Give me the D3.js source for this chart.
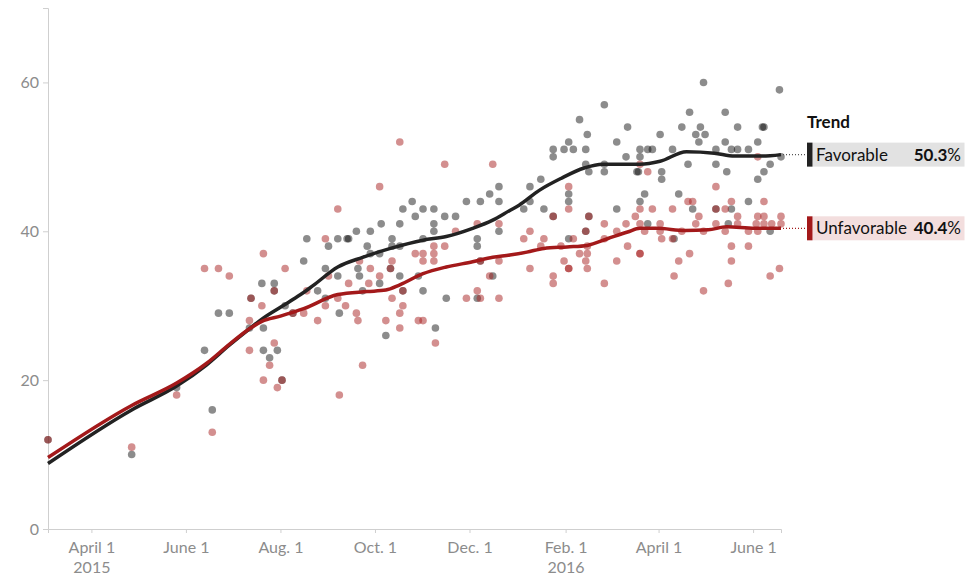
<!DOCTYPE html>
<html>
<head>
<meta charset="utf-8">
<script src="https://cdn.jsdelivr.net/npm/d3@7"></script>
<style>
  body { margin: 0; background: #fff; font-family: Lato, "Open Sans", sans-serif; }
  .axis text { fill: #8c8c8c; font-size: 16px; font-family: Lato, "Open Sans", sans-serif; }
  .axis path, .axis line { stroke: #cfcfcf; }
</style>
</head>
<body>
<div id="container"></div>
<script>
// poll results: [date, percent]
let favorablePolls = [
  ["2015-03-04",12],["2015-04-27",10],["2015-05-26",19],["2015-06-13",24],["2015-06-18",16],
  ["2015-06-22",29],["2015-06-29",29],["2015-07-12",27],["2015-07-13",31],["2015-07-20",33],
  ["2015-07-21",27],["2015-07-21",24],["2015-07-25",23],["2015-07-28",33],["2015-07-28",32],
  ["2015-07-30",24],["2015-08-02",20],["2015-08-04",30],["2015-08-09",29],["2015-08-16",36],
  ["2015-08-18",39],["2015-08-25",32],["2015-08-30",35],["2015-08-30",31],["2015-09-01",38],
  ["2015-09-07",39],["2015-09-07",34],["2015-09-08",29],["2015-09-13",39],["2015-09-14",39],
  ["2015-09-19",40],["2015-09-20",35],["2015-09-21",34],["2015-09-23",32],["2015-09-26",38],
  ["2015-09-28",37],["2015-09-28",40],["2015-10-04",37],["2015-10-04",33],["2015-10-05",41],
  ["2015-10-08",26],["2015-10-11",35],["2015-10-12",39],["2015-10-12",38],["2015-10-17",41],
  ["2015-10-17",38],["2015-10-17",34],["2015-10-19",43],["2015-10-19",32],["2015-10-25",44],
  ["2015-10-27",42],["2015-10-29",34],["2015-11-01",43],["2015-11-01",39],["2015-11-01",32],
  ["2015-11-08",43],["2015-11-08",41],["2015-11-08",40],["2015-11-09",27],["2015-11-15",42],
  ["2015-11-16",31],["2015-11-22",42],["2015-11-29",44],["2015-12-06",39],["2015-12-06",38],
  ["2015-12-06",31],["2015-12-08",44],["2015-12-08",36],["2015-12-14",45],["2015-12-16",34],
  ["2015-12-20",46],["2015-12-20",44],["2015-12-20",40],["2016-01-05",43],["2016-01-09",46],
  ["2016-01-09",44],["2016-01-16",47],["2016-01-18",43],["2016-01-24",51],["2016-01-24",50],
  ["2016-01-24",42],["2016-01-31",51],["2016-02-03",52],["2016-02-03",45],["2016-02-03",44],
  ["2016-02-03",39],["2016-02-06",51],["2016-02-10",55],["2016-02-14",51],["2016-02-14",49],
  ["2016-02-14",40],["2016-02-15",53],["2016-02-16",48],["2016-02-16",42],["2016-02-26",57],
  ["2016-02-26",49],["2016-02-26",48],["2016-03-05",52],["2016-03-05",43],["2016-03-11",50],
  ["2016-03-12",54],["2016-03-18",48],["2016-03-19",48],["2016-03-20",51],["2016-03-20",50],
  ["2016-03-20",44],["2016-03-23",45],["2016-03-25",51],["2016-03-25",41],["2016-03-28",51],
  ["2016-04-02",53],["2016-04-03",47],["2016-04-03",48],["2016-04-10",51],["2016-04-11",39],
  ["2016-04-14",45],["2016-04-16",54],["2016-04-20",49],["2016-04-21",56],["2016-04-23",43],
  ["2016-04-25",53],["2016-04-27",52],["2016-04-28",54],["2016-04-30",60],["2016-05-01",53],
  ["2016-05-08",51],["2016-05-08",49],["2016-05-08",43],["2016-05-14",56],["2016-05-14",52],
  ["2016-05-15",48],["2016-05-16",41],["2016-05-18",51],["2016-05-18",43],["2016-05-22",54],
  ["2016-05-22",51],["2016-05-29",51],["2016-05-29",44],["2016-06-04",52],["2016-06-04",47],
  ["2016-06-07",54],["2016-06-08",54],["2016-06-08",48],["2016-06-12",49],["2016-06-12",40],
  ["2016-06-18",59],["2016-06-19",50]
];

let unfavorablePolls = [
  ["2015-03-04",12],["2015-04-27",11],["2015-05-26",18],["2015-06-13",35],["2015-06-18",13],
  ["2015-06-22",35],["2015-06-29",34],["2015-07-12",28],["2015-07-12",24],["2015-07-13",31],
  ["2015-07-20",30],["2015-07-21",37],["2015-07-21",20],["2015-07-25",22],["2015-07-28",32],
  ["2015-07-28",25],["2015-07-30",19],["2015-08-02",20],["2015-08-04",35],["2015-08-09",29],
  ["2015-08-16",29],["2015-08-18",32],["2015-08-25",28],["2015-08-30",39],["2015-08-30",30],
  ["2015-09-01",34],["2015-09-07",43],["2015-09-07",31],["2015-09-08",18],["2015-09-12",30],
  ["2015-09-14",33],["2015-09-19",29],["2015-09-20",28],["2015-09-21",36],["2015-09-23",22],
  ["2015-09-27",33],["2015-09-28",35],["2015-10-04",46],["2015-10-04",34],["2015-10-08",28],
  ["2015-10-11",35],["2015-10-12",36],["2015-10-12",31],["2015-10-17",52],["2015-10-17",29],
  ["2015-10-17",27],["2015-10-19",32],["2015-10-19",30],["2015-10-27",37],["2015-10-29",28],
  ["2015-11-01",37],["2015-11-01",36],["2015-11-01",28],["2015-11-08",38],["2015-11-08",37],
  ["2015-11-08",36],["2015-11-09",25],["2015-11-15",49],["2015-11-15",38],["2015-11-22",40],
  ["2015-11-29",31],["2015-12-06",41],["2015-12-06",32],["2015-12-08",31],["2015-12-08",36],
  ["2015-12-14",34],["2015-12-16",49],["2015-12-20",41],["2015-12-20",36],["2015-12-20",31],
  ["2016-01-05",39],["2016-01-09",40],["2016-01-09",35],["2016-01-16",38],["2016-01-18",39],
  ["2016-01-24",42],["2016-01-24",34],["2016-01-24",33],["2016-01-29",38],["2016-01-31",36],
  ["2016-02-03",46],["2016-02-03",43],["2016-02-03",35],["2016-02-03",35],["2016-02-06",39],
  ["2016-02-10",37],["2016-02-14",40],["2016-02-14",36],["2016-02-15",38],["2016-02-15",37],
  ["2016-02-15",35],["2016-02-16",42],["2016-02-26",41],["2016-02-26",39],["2016-02-26",33],
  ["2016-03-05",40],["2016-03-05",36],["2016-03-11",41],["2016-03-12",38],["2016-03-17",42],
  ["2016-03-20",49],["2016-03-25",48],["2016-03-20",43],["2016-03-20",41],["2016-03-20",37],
  ["2016-03-20",37],["2016-03-23",40],["2016-03-28",43],["2016-04-02",41],["2016-04-02",40],
  ["2016-04-03",39],["2016-04-10",43],["2016-04-10",39],["2016-04-11",34],["2016-04-14",36],
  ["2016-04-16",40],["2016-04-20",44],["2016-04-21",37],["2016-04-23",44],["2016-04-25",41],
  ["2016-04-27",42],["2016-04-30",40],["2016-04-30",32],["2016-05-08",46],["2016-05-08",43],
  ["2016-05-08",41],["2016-05-14",43],["2016-05-14",40],["2016-05-16",33],["2016-05-18",44],
  ["2016-05-18",38],["2016-05-18",36],["2016-05-22",42],["2016-05-22",41],["2016-05-29",40],
  ["2016-05-29",38],["2016-06-03",41],["2016-06-04",50],["2016-06-04",42],["2016-06-04",40],
  ["2016-06-08",44],["2016-06-08",42],["2016-06-08",41],["2016-06-12",34],["2016-06-13",41],
  ["2016-06-18",35],["2016-06-19",42],["2016-06-19",41]
];

// smoothed trend lines
let favorableTrend = [
  ["2015-03-04",8.8],["2015-04-27",16.0],["2015-05-26",19.2],["2015-06-14",22.0],["2015-06-29",24.7],
  ["2015-07-12",26.9],["2015-07-20",28.2],["2015-08-01",29.8],["2015-08-14",31.5],["2015-08-22",32.7],
  ["2015-09-07",35.2],["2015-09-23",36.5],["2015-10-11",37.7],["2015-11-01",38.8],["2015-11-16",39.3],
  ["2015-12-03",40.4],["2015-12-16",41.5],["2015-12-27",42.8],["2016-01-02",43.5],["2016-01-15",45.5],
  ["2016-01-29",47.1],["2016-02-13",48.5],["2016-02-25",49.0],["2016-03-20",49.0],["2016-04-02",49.4],
  ["2016-04-19",50.7],["2016-05-07",50.5],["2016-05-20",50.1],["2016-06-07",50.1],["2016-06-19",50.3]
];

let unfavorableTrend = [
  ["2015-03-04",9.6],["2015-04-27",16.6],["2015-05-26",19.6],["2015-06-14",22.2],["2015-06-29",24.8],
  ["2015-07-12",26.9],["2015-07-20",27.9],["2015-08-01",28.6],["2015-08-16",29.6],["2015-09-07",31.5],
  ["2015-09-26",31.9],["2015-10-08",32.1],["2015-10-17",32.8],["2015-11-01",34.3],["2015-11-16",35.2],
  ["2015-12-03",35.9],["2015-12-16",36.5],["2015-12-27",36.8],["2016-01-07",37.2],["2016-01-18",37.7],
  ["2016-02-02",37.9],["2016-02-15",38.1],["2016-02-28",39.0],["2016-03-12",39.9],["2016-03-20",40.4],
  ["2016-03-31",40.4],["2016-04-18",40.1],["2016-05-03",40.2],["2016-05-15",40.6],["2016-06-02",40.4],
  ["2016-06-19",40.4]
];

let xTickDates = ["2015-04-01","2015-06-01","2015-08-01","2015-10-01","2015-12-01","2016-02-01","2016-04-01","2016-06-01"];
let xTickLabels = [["April 1","2015"],["June 1"],["Aug. 1"],["Oct. 1"],["Dec. 1"],["Feb. 1","2016"],["April 1"],["June 1"]];
let yTicks = [0, 20, 40, 60];
let seriesNames = ["Favorable", "Unfavorable"];

let margin = {top: 8, right: 199, bottom: 58, left: 48},
    width = 980 - margin.left - margin.right,
    height = 587 - margin.top - margin.bottom;

let parseDate = d3.timeParse("%Y-%m-%d");

let svg = d3.select("#container").append("svg")
    .attr("width", 980)
    .attr("height", 587);

let viz = svg.append("g")
    .attr("transform", "translate(" + margin.left + "," + margin.top + ")");

let allDates = favorablePolls.concat(unfavorablePolls).map(d => parseDate(d[0]));

let xScale = d3.scaleTime()
    .domain(d3.extent(allDates))
    .range([0, width]);

let yScale = d3.scaleLinear()
    .domain([0, 70])
    .range([height, 0]);

// axes
let xAxis = d3.axisBottom(xScale)
    .tickValues(xTickDates.map(parseDate))
    .tickSize(4)
    .tickPadding(9)
    .tickFormat("");

let xAxisGroup = viz.append("g")
    .attr("class", "x axis")
    .attr("transform", "translate(0," + height + ")")
    .call(xAxis);

xAxisGroup.selectAll(".tick text")
    .each(function(d, i) {
      let t = d3.select(this).text(null);
      xTickLabels[i].forEach(function(line, j) {
        t.append("tspan")
          .attr("x", 0)
          .attr("dy", j == 0 ? "0.71em" : "1.25em")
          .text(line);
      });
    });

let yAxis = d3.axisLeft(yScale)
    .tickValues(yTicks)
    .tickSize(5)
    .tickPadding(4);

viz.append("g")
    .attr("class", "y axis")
    .call(yAxis);

viz.selectAll(".axis .domain").attr("stroke", "#cfcfcf");

// dots
let dotColor = {Favorable: "#000", Unfavorable: "#a8201f"};
let dotOpacity = {Favorable: 0.45, Unfavorable: 0.5};

let pollSets = [favorablePolls, unfavorablePolls];
pollSets.forEach(function(polls, k) {
  let name = seriesNames[k];
  viz.append("g").selectAll("circle")
      .data(polls)
      .enter().append("circle")
        .attr("cx", d => xScale(parseDate(d[0])))
        .attr("cy", d => yScale(d[1]))
        .attr("r", 3.8)
        .attr("fill", dotColor[name])
        .attr("fill-opacity", dotOpacity[name]);
});

// trend lines
let lineColor = {Favorable: "#222222", Unfavorable: "#a3191a"};
let line = d3.line()
    .x(d => xScale(parseDate(d[0])))
    .y(d => yScale(d[1]))
    .curve(d3.curveMonotoneX);

let trends = [favorableTrend, unfavorableTrend];
trends.forEach(function(trend, k) {
  viz.append("path")
      .datum(trend)
      .attr("fill", "none")
      .attr("stroke", lineColor[seriesNames[k]])
      .attr("stroke-width", 3.5)
      .attr("stroke-linejoin", "round")
      .attr("d", line);
});

// legend on the right
let boxColor = {Favorable: "#e2e2e2", Unfavorable: "#f3dede"};
let legendX = 759;

viz.append("text")
    .attr("x", legendX)
    .attr("y", 120)
    .style("font-weight", "bold")
    .style("font-size", "17px")
    .style("fill", "#111")
    .text("Trend");

trends.forEach(function(trend, k) {
  let name = seriesNames[k];
  let last = trend[trend.length - 1];
  let ly = yScale(last[1]);
  let lx = xScale(parseDate(last[0]));

  viz.append("line")
      .attr("x1", lx + 2)
      .attr("x2", legendX)
      .attr("y1", ly)
      .attr("y2", ly)
      .attr("stroke", k == 0 ? "#555" : "#a3191a")
      .attr("stroke-width", 1.2)
      .attr("stroke-dasharray", "1,2");

  viz.append("rect")
      .attr("x", legendX + 5.5)
      .attr("y", ly - 12)
      .attr("width", 152)
      .attr("height", 24)
      .attr("fill", boxColor[name]);

  viz.append("rect")
      .attr("x", legendX)
      .attr("y", ly - 12)
      .attr("width", 5.5)
      .attr("height", 24)
      .attr("fill", lineColor[name]);

  viz.append("text")
      .attr("x", legendX + 9)
      .attr("y", ly)
      .attr("dy", "0.35em")
      .style("font-size", "17px")
      .style("fill", "#111")
      .text(name);

  let val = viz.append("text")
      .attr("x", legendX + 154)
      .attr("y", ly)
      .attr("dy", "0.35em")
      .attr("text-anchor", "end")
      .style("font-size", "17px")
      .style("fill", "#111");
  val.append("tspan").style("font-weight", "bold").text(last[1].toFixed(1));
  val.append("tspan").text("%");
});
</script>
</body>
</html>
